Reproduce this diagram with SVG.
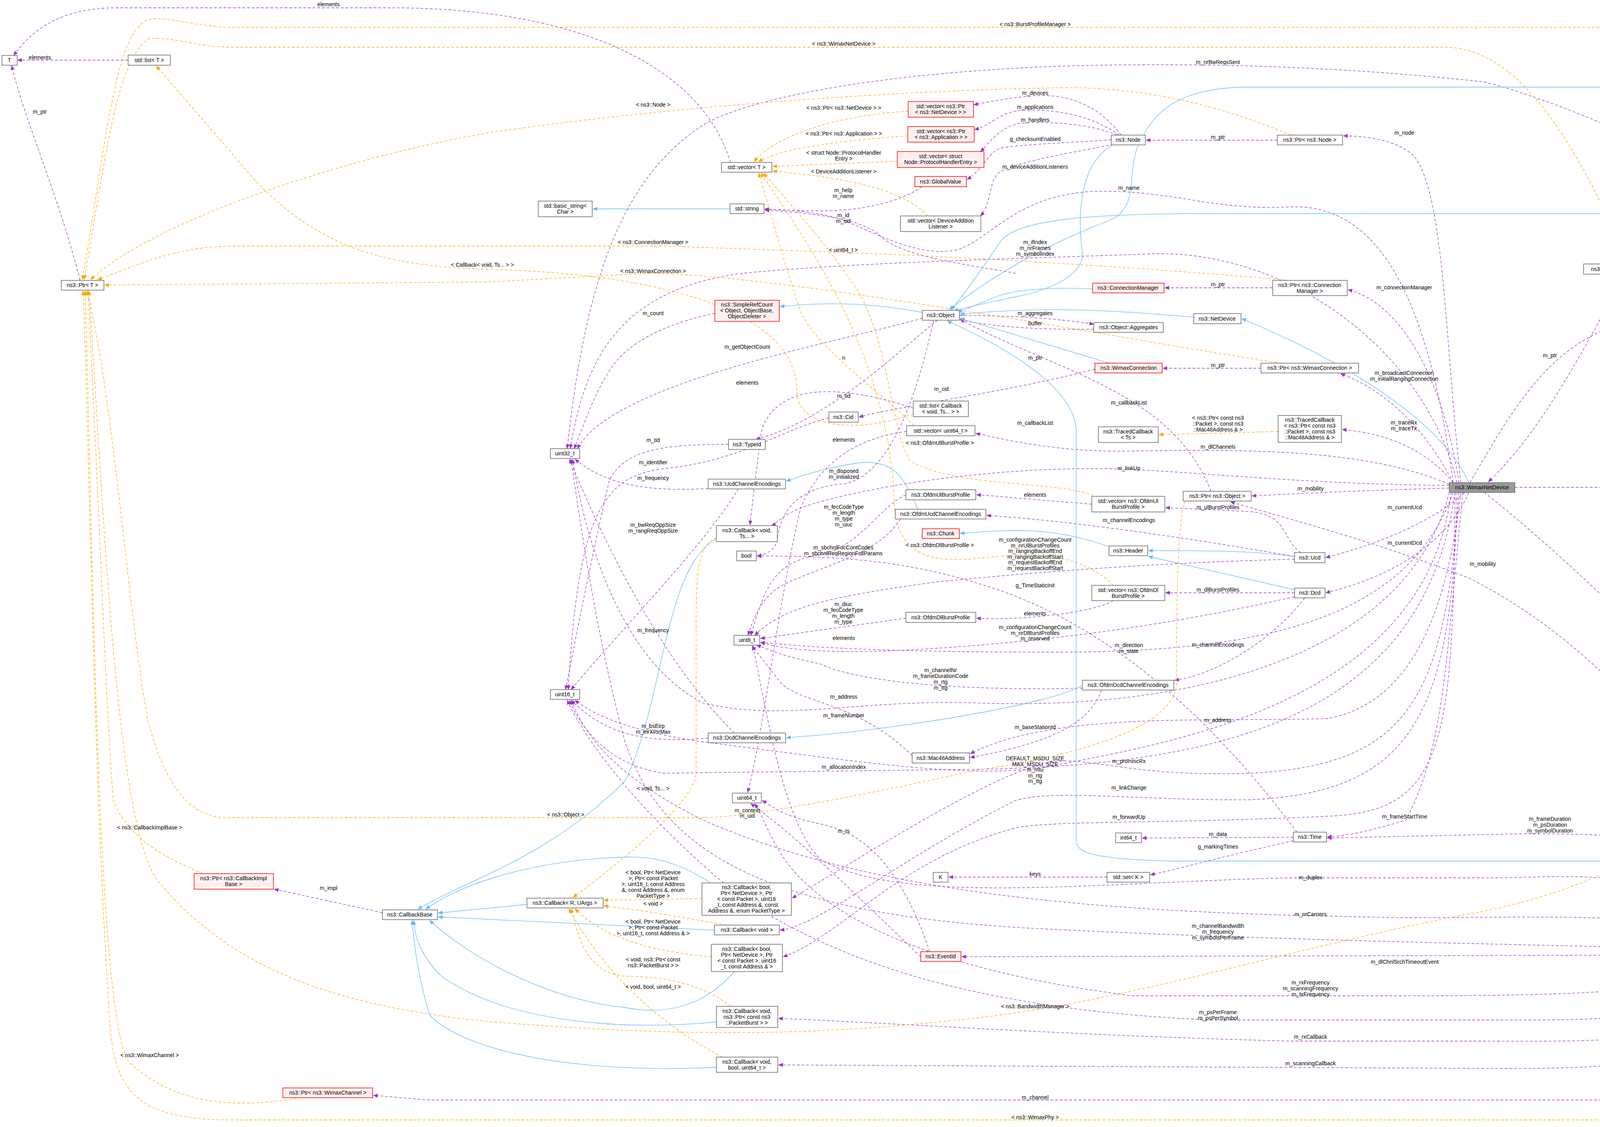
<svg xmlns="http://www.w3.org/2000/svg" width="4988" height="2886" viewBox="0 0 4988 2886">
<style>
text{font-family:"Liberation Sans",Arial,sans-serif;font-size:14px;text-anchor:middle;fill:#000}
.n{fill:#fff;stroke:#666;stroke-width:1.5}
.r{fill:#fff0f0;stroke:#f00;stroke-width:1.5}
.g{fill:#999;stroke:#666;stroke-width:1.5}
.p{fill:none;stroke:#9a32cd;stroke-width:1.3;stroke-dasharray:7,5;marker-end:url(#mp)}
.o{fill:none;stroke:#ffa500;stroke-width:1.3;stroke-dasharray:7,5;marker-end:url(#mo)}
.b{fill:none;stroke:#63b8ff;stroke-width:1.3;marker-end:url(#mb)}
</style>
<defs>
<marker id="mp" markerWidth="12" markerHeight="10" refX="11" refY="5" orient="auto" markerUnits="userSpaceOnUse"><path d="M0,0L12,5L0,10z" fill="#9a32cd"/></marker>
<marker id="mo" markerWidth="12" markerHeight="10" refX="11" refY="5" orient="auto" markerUnits="userSpaceOnUse"><path d="M0,0L12,5L0,10z" fill="#ffa500"/></marker>
<marker id="mb" markerWidth="12" markerHeight="10" refX="11" refY="5" orient="auto" markerUnits="userSpaceOnUse"><path d="M0,0L12,5L0,10z" fill="#63b8ff"/></marker>
</defs>
<rect width="4988" height="2886" fill="#fff"/>
<g id="connectors">
<path class="p" d="M1870,416 C1800,180 1500,20 1000,20 L300,20 C150,20 80,80 35,142"/>
<path class="p" d="M328,154 L45,154"/>
<path class="p" d="M205,718 C150,500 60,300 30,168"/>
<path class="p" d="M2870,346 C2820,280 2750,240 2650,245 C2580,250 2530,262 2493,268"/>
<path class="p" d="M2865,346 C2800,300 2720,280 2620,282 C2560,285 2540,320 2495,332"/>
<path class="p" d="M2860,346 C2800,320 2700,310 2620,315 C2560,320 2530,370 2510,388"/>
<path class="p" d="M2845,358 C2750,365 2600,370 2560,380 C2530,390 2520,430 2476,460"/>
<path class="p" d="M2850,370 C2750,390 2620,410 2560,440 C2530,460 2540,520 2510,553"/>
<path class="p" d="M3270,359 L2934,359"/>
<path class="p" d="M3740,1236 C3700,900 3700,500 3620,400 C3580,360 3500,348 3439,348"/>
<path class="p" d="M2360,478 C2300,520 2200,540 2100,540 C2030,540 1990,537 1958,535"/>
<path class="p" d="M3720,1236 C3650,700 3500,520 3300,530 C3100,540 3000,485 2800,490 C2600,500 2540,610 2450,640 C2350,660 2250,600 2150,560 C2080,540 2000,536 1958,536"/>
<path class="p" d="M2600,700 C2500,680 2300,660 2250,600 C2200,560 2080,545 1958,538"/>
<path class="p" d="M3730,1236 C3650,900 3300,640 2950,650 C2700,660 2200,670 1900,700 C1600,740 1500,900 1460,1149"/>
<path class="p" d="M4580,534 C4300,400 4000,260 3800,210 C3400,165 3000,160 2700,170 C2200,190 1900,260 1800,320 C1600,450 1500,700 1452,1149"/>
<path class="p" d="M1830,802 C1700,830 1600,880 1560,950 C1520,1010 1490,1100 1470,1149"/>
<path class="p" d="M2361,815 C2200,860 1900,920 1700,1000 C1550,1060 1500,1110 1478,1149"/>
<path class="p" d="M2400,820 C2300,900 2200,1000 2050,1080 C1990,1110 1960,1118 1935,1125"/>
<path class="p" d="M2456,808 C2600,808 2700,815 2800,830"/>
<path class="p" d="M2800,843 C2650,845 2520,835 2458,818"/>
<path class="p" d="M2390,820 C2350,1000 2280,1230 2150,1240 C2050,1250 2000,1300 1990,1380 C1985,1410 1960,1420 1938,1424"/>
<path class="p" d="M3100,1258 C3000,1000 2700,950 2458,818"/>
<path class="p" d="M3449,737 L2982,737"/>
<path class="p" d="M3228,943 L2977,943"/>
<path class="p" d="M2803,945 C2600,1000 2300,1040 2199,1068"/>
<path class="p" d="M2122,1070 C2000,1100 1900,1180 1700,1200 C1550,1220 1480,1300 1455,1766"/>
<path class="p" d="M1865,1138 C1700,1138 1600,1150 1560,1230 C1520,1400 1470,1650 1448,1766"/>
<path class="p" d="M1813,1251 C1650,1260 1550,1240 1472,1176"/>
<path class="p" d="M1890,1252 C1800,1400 1600,1600 1462,1766"/>
<path class="p" d="M1813,1890 C1650,1905 1550,1880 1462,1793"/>
<path class="p" d="M1880,1877 C1700,1700 1550,1400 1458,1176"/>
<path class="p" d="M2319,1267 C2250,1300 2200,1400 2100,1420 C1980,1440 1960,1500 1922,1627"/>
<path class="p" d="M2319,1583 C2200,1600 2050,1620 1947,1635"/>
<path class="p" d="M2305,1329 C2250,1420 2100,1450 2000,1500 C1950,1530 1930,1580 1915,1627"/>
<path class="p" d="M3320,2131 C3000,1700 2700,1550 2500,1493 C2300,1430 2100,1423 1938,1424"/>
<path class="p" d="M2795,1291 C2650,1280 2550,1270 2500,1267"/>
<path class="p" d="M2850,1538 C2800,1570 2600,1590 2500,1583"/>
<path class="p" d="M3330,1415 C3280,1380 3300,1320 3200,1310 L2984,1300"/>
<path class="p" d="M3314,1425 C3000,1370 2700,1330 2526,1320"/>
<path class="p" d="M3314,1432 C3000,1440 2700,1460 2400,1490 C2100,1530 2000,1560 1932,1627"/>
<path class="p" d="M3314,1518 L2984,1518"/>
<path class="p" d="M3340,1531 C3250,1650 3100,1730 3007,1742"/>
<path class="p" d="M3314,1528 C3000,1600 2700,1640 2400,1660 C2100,1680 2000,1660 1947,1645"/>
<path class="p" d="M2771,1762 C2500,1770 2200,1750 2100,1700 C2000,1680 1960,1660 1937,1652"/>
<path class="p" d="M2820,1767 C2790,1850 2700,1900 2484,1940"/>
<path class="p" d="M2335,1935 C2200,1800 2050,1800 2000,1750 L1925,1654"/>
<path class="p" d="M3740,1261 C3700,1600 3600,1800 3400,1840 C3100,1850 2700,1820 2484,1930"/>
<path class="p" d="M3720,1261 C3600,1600 3200,1670 2700,1670 C2300,1670 2100,1660 1947,1645"/>
<path class="p" d="M3710,1261 C3600,1700 3000,1820 2500,1800 C2200,1790 2000,1850 1800,1800 C1600,1700 1500,1400 1466,1176"/>
<path class="p" d="M3725,1261 C3650,1800 3200,1960 2500,1970 L1700,1980 C1550,1960 1480,1850 1458,1793"/>
<path class="p" d="M3715,1261 C3650,1800 3000,1900 2700,1960 C2500,2000 2200,1950 1800,1900 C1600,1870 1520,1830 1472,1793"/>
<path class="p" d="M3735,1236 C3700,1000 3600,780 3451,742"/>
<path class="p" d="M3720,1236 C3650,1100 3550,1000 3432,957"/>
<path class="p" d="M3720,1236 C3650,1150 3550,1110 3436,1100"/>
<path class="p" d="M3710,1240 C3500,1150 3200,1150 2900,1155 C2700,1160 2550,1120 2498,1110"/>
<path class="p" d="M3710,1243 C3300,1240 3000,1200 2800,1200 C2500,1200 2200,1250 2050,1300 C1995,1325 1990,1340 1975,1346"/>
<path class="p" d="M3710,1250 C3500,1255 3300,1265 3205,1270"/>
<path class="p" d="M3750,1261 C3650,1350 3500,1400 3394,1428"/>
<path class="p" d="M3760,1261 C3700,1400 3550,1480 3394,1518"/>
<path class="p" d="M3878,1248 L4796,1248"/>
<path class="p" d="M3763,1236 C3900,1000 4000,820 4300,800 C4500,830 4650,700 4880,383"/>
<path class="p" d="M4160,702 C4050,900 3950,1100 3810,1234"/>
<path class="p" d="M4595,373 C4530,500 4500,600 4480,650 C4400,675 4320,672 4280,676"/>
<path class="p" d="M4595,560 C4550,650 4450,720 4242,702"/>
<path class="p" d="M4885,1228 C4800,950 4750,750 4612,562"/>
<path class="p" d="M4795,361 L4701,361"/>
<path class="p" d="M3800,1261 C4100,1500 4500,1900 4890,2426"/>
<path class="p" d="M4790,2441 L4668,2441"/>
<path class="p" d="M3745,1261 C3700,1700 3700,1900 3600,2100 C3500,2130 3450,2140 3398,2143"/>
<path class="p" d="M3735,1261 C3700,1800 3600,1960 3200,1980 C2900,1990 2800,1940 2700,1950 C2550,1970 2200,2200 2028,2300"/>
<path class="p" d="M3730,1261 C3720,1850 3600,2030 3200,2048 C2900,2050 2700,2020 2600,2050 C2300,2200 2100,2370 1997,2382"/>
<path class="p" d="M3725,1261 C3720,1900 3700,2080 3400,2090 C3000,2110 2700,2100 2600,2120 C2300,2200 2150,2400 2005,2450"/>
<path class="p" d="M3311,2144 L2924,2146"/>
<path class="p" d="M3311,2153 C3100,2200 3000,2230 2945,2240"/>
<path class="p" d="M2834,2246 L2429,2246"/>
<path class="p" d="M2321,1105 C2200,1120 2100,1180 2050,1300 C2000,1500 1950,1900 1914,2029"/>
<path class="p" d="M2338,1045 C2200,1000 2000,960 1950,1100 C1930,1250 1925,1300 1920,1344"/>
<path class="p" d="M2357,2450 C2200,2300 2050,2150 1922,2058"/>
<path class="p" d="M2380,2437 C2300,2200 2200,2130 2100,2110 C2000,2090 1980,2065 1951,2050"/>
<path class="p" d="M4560,2428 C4300,2200 4000,2250 3800,2248 L3300,2248 C2800,2260 2300,2320 2100,2200 C2000,2100 1960,1800 1927,1654"/>
<path class="p" d="M4555,2428 C4300,2330 4000,2350 3600,2350 C3000,2340 2300,2320 1800,2100 C1600,2000 1500,1900 1464,1793"/>
<path class="p" d="M4542,2435 C4000,2420 3300,2410 2700,2380 C2000,2350 1700,2200 1600,1900 C1520,1600 1480,1300 1462,1176"/>
<path class="p" d="M4542,2445 L2462,2450"/>
<path class="p" d="M4550,2454 C4300,2550 4000,2550 3500,2550 L2900,2550 C2500,2500 2200,2400 2050,2250 C1980,2180 1960,2100 1932,2058"/>
<path class="p" d="M4555,2454 C4400,2620 4100,2612 3800,2612 L3100,2612 C2600,2590 2200,2500 1900,2300 C1650,2100 1500,1900 1452,1793"/>
<path class="p" d="M4560,2454 C4500,2650 4300,2670 3800,2666 L3300,2666 C2700,2650 2300,2620 1993,2608"/>
<path class="p" d="M4565,2454 C4500,2700 4300,2740 3800,2736 L1993,2727"/>
<path class="p" d="M4600,2454 C4560,2700 4450,2800 4221,2775"/>
<path class="p" d="M4605,2454 C4560,2750 4450,2820 4200,2817 L1100,2817 L956,2805"/>
<path class="p" d="M4595,2428 C4550,2200 4450,2050 4400,1800 C4300,1600 4250,1100 4180,704"/>
<path class="p" d="M4580,2428 C4400,2000 4100,1650 3760,1480 C3500,1380 3300,1330 3150,1285"/>
<path class="p" d="M4565,2428 C4500,2160 4300,2135 3900,2135 L3398,2146"/>
<path class="p" d="M979,2337 L702,2277"/>
<path class="o" d="M4900,341 C4850,150 4750,70 4600,70 L600,70 C500,70 430,40 380,50 C300,80 280,300 211,716"/>
<path class="o" d="M4170,676 C4050,400 3900,121 3700,121 L600,121 C500,121 430,90 380,100 C300,150 270,400 216,716"/>
<path class="o" d="M3305,346 C3100,260 2900,220 2700,225 C2400,230 1800,260 1250,340 C900,400 400,560 232,716"/>
<path class="o" d="M3300,718 C3000,690 2500,660 2250,650 L1700,630 L600,630 C450,630 350,680 250,716"/>
<path class="o" d="M3280,930 C3000,890 2000,700 1660,700 L1250,722 L268,730"/>
<path class="o" d="M3035,1283 C3015,1320 3012,1500 3012,1750 C3010,1850 2800,1930 2500,1972 C2200,2040 1900,2094 1800,2094 L580,2094 C480,2094 420,2000 380,1850 C330,1600 290,1000 222,745"/>
<path class="o" d="M520,2237 C430,2200 330,2150 290,2050 C270,1800 250,1200 225,745"/>
<path class="o" d="M770,2811 C600,2840 450,2830 330,2720 C250,2600 240,1500 218,745"/>
<path class="o" d="M4870,2454 C4850,2650 4700,2868 4600,2868 L600,2868 C350,2868 290,2800 280,2600 C240,2000 230,1200 213,745"/>
<path class="o" d="M4882,1268 C4700,1900 4300,2250 3750,2342 C3300,2430 2900,2560 2500,2607 C2100,2650 1800,2660 1250,2616 C900,2580 600,2500 400,2250 C300,2100 270,1400 228,745"/>
<path class="o" d="M2338,1060 C2200,1110 2040,1100 2040,1000 C2040,800 1700,700 1250,690 C1000,680 800,650 600,400 L400,169"/>
<path class="o" d="M2325,285 C2200,290 2000,330 1930,414"/>
<path class="o" d="M2324,348 C2150,360 2000,380 1942,414"/>
<path class="o" d="M2297,413 L1978,426"/>
<path class="o" d="M2375,553 C2300,470 2100,450 1978,438"/>
<path class="o" d="M2340,1090 C2250,1000 2100,900 2050,800 C2000,650 1960,500 1942,443"/>
<path class="o" d="M2799,1269 C2700,1230 2450,1250 2330,1180 C2280,1100 2280,900 2200,750 C2100,600 2000,500 1955,443"/>
<path class="o" d="M2850,1499 C2750,1400 2600,1420 2500,1430 C2400,1440 2300,1430 2290,1300 C2280,900 2050,600 1948,443"/>
<path class="o" d="M3272,1105 L2967,1113"/>
<path class="o" d="M1834,1377 C1790,1395 1782,1450 1782,1600 L1782,1980 C1780,2050 1600,2200 1467,2298"/>
<path class="o" d="M1797,2301 L1546,2305"/>
<path class="o" d="M1860,2369 C1700,2340 1600,2325 1546,2320"/>
<path class="o" d="M1821,2450 C1700,2440 1550,2410 1472,2327"/>
<path class="o" d="M1870,2577 C1800,2520 1700,2500 1600,2500 C1500,2490 1480,2400 1462,2327"/>
<path class="o" d="M1850,2707 C1700,2630 1550,2500 1456,2327"/>
<path class="b" d="M1869,535 L1518,535"/>
<path class="b" d="M2361,800 C2250,780 2150,770 1997,785"/>
<path class="b" d="M2848,372 C2760,420 2760,560 2770,640 C2780,700 2700,740 2600,760 C2500,780 2470,790 2442,795"/>
<path class="b" d="M4580,348 C4500,280 4350,223 4200,223 L3200,223 C3000,223 2950,300 2920,360 C2880,430 2920,520 2850,560 C2750,600 2600,660 2430,793"/>
<path class="b" d="M4514,547 L3100,547 C2800,547 2600,560 2560,620 C2520,680 2470,750 2436,793"/>
<path class="b" d="M2797,740 C2700,735 2600,740 2550,760 L2452,800"/>
<path class="b" d="M3056,812 C2900,800 2700,780 2458,805"/>
<path class="b" d="M2840,930 L2458,815"/>
<path class="b" d="M3760,1236 C3700,1100 3500,950 3179,816"/>
<path class="b" d="M4600,2428 C4570,2300 4500,2205 4430,2205 L3000,2205 C2780,2200 2755,2180 2755,2150 L2755,1100 C2750,1000 2600,900 2425,822"/>
<path class="b" d="M2350,1304 C2320,1240 2300,1175 2200,1185 C2100,1200 2050,1220 2013,1232"/>
<path class="b" d="M2771,1755 C2700,1800 2300,1870 2013,1889"/>
<path class="b" d="M3314,1425 C3200,1410 3100,1410 2940,1410"/>
<path class="b" d="M3314,1510 L2940,1425"/>
<path class="b" d="M2839,1400 C2700,1350 2600,1355 2458,1366"/>
<path class="b" d="M1834,1380 C1700,1450 1700,1800 1600,2000 C1400,2200 1200,2250 1070,2328"/>
<path class="b" d="M1349,2316 L1122,2338"/>
<path class="b" d="M1820,2261 C1770,2230 1700,2190 1600,2195 C1400,2200 1200,2250 1090,2328"/>
<path class="b" d="M1829,2382 L1122,2348"/>
<path class="b" d="M1880,2488 C1800,2580 1700,2600 1600,2580 C1400,2560 1200,2450 1100,2357"/>
<path class="b" d="M1834,2617 C1600,2640 1300,2620 1130,2500 C1080,2450 1060,2400 1060,2357"/>
<path class="b" d="M1834,2733 C1500,2750 1200,2700 1100,2600 C1070,2500 1060,2420 1055,2357"/>
</g>
<g id="labels">
<text x="841" y="16">elements</text>
<text x="102" y="152">elements</text>
<text x="102" y="291">m_ptr</text>
<text x="1235" y="683">&lt; Callback&lt; void, Ts... &gt; &gt;</text>
<text x="2160" y="117">&lt; ns3::WimaxNetDevice &gt;</text>
<text x="1672" y="273">&lt; ns3::Node &gt;</text>
<text x="2160" y="281">&lt; ns3::Ptr&lt; ns3::NetDevice &gt; &gt;</text>
<text x="2160" y="347">&lt; ns3::Ptr&lt; ns3::Application &gt; &gt;</text>
<text x="2160" y="396">&lt; struct Node::ProtocolHandler<tspan x="2160" dy="15">Entry &gt;</tspan></text>
<text x="2160" y="444">&lt; DeviceAdditionListener &gt;</text>
<text x="2159" y="492">m_help<tspan x="2159" dy="15">m_name</tspan></text>
<text x="2159" y="556">m_id<tspan x="2159" dy="15">m_sid</tspan></text>
<text x="1672" y="625">&lt; ns3::ConnectionManager &gt;</text>
<text x="2159" y="645">&lt; uint64_t &gt;</text>
<text x="1672" y="699">&lt; ns3::WimaxConnection &gt;</text>
<text x="1672" y="807">m_count</text>
<text x="1913" y="893">m_getObjectCount</text>
<text x="2160" y="921">n</text>
<text x="2650" y="67">&lt; ns3::BurstProfileManager &gt;</text>
<text x="3118" y="164">m_nrBwReqsSent</text>
<text x="2650" y="243">m_devices</text>
<text x="2650" y="279">m_applications</text>
<text x="2650" y="312">m_handlers</text>
<text x="2650" y="361">g_checksumEnabled</text>
<text x="2650" y="432">m_deviceAdditionListeners</text>
<text x="3118" y="356">m_ptr</text>
<text x="3595" y="345">m_node</text>
<text x="2890" y="486">m_name</text>
<text x="2650" y="625">m_ifIndex<tspan x="2650" dy="15">m_nrFrames</tspan><tspan x="2650" dy="15">m_symbolIndex</tspan></text>
<text x="3118" y="733">m_ptr</text>
<text x="3595" y="741">m_connectionManager</text>
<text x="2650" y="807">m_aggregates</text>
<text x="2650" y="833">buffer</text>
<text x="2650" y="921">m_ptr</text>
<text x="3118" y="940">m_ptr</text>
<text x="3595" y="960">m_broadcastConnection<tspan x="3595" dy="15">m_initialRangingConnection</tspan></text>
<text x="4745" y="358">m_ptr</text>
<text x="4408" y="601">m_burstProfileManager</text>
<text x="4408" y="639">m_device</text>
<text x="4408" y="684">m_device</text>
<text x="4745" y="833">m_ptr</text>
<text x="3968" y="915">m_ptr</text>
<text x="1913" y="985">elements</text>
<text x="2160" y="1019">m_tid</text>
<text x="2410" y="1001">m_cid</text>
<text x="1672" y="1132">m_tid</text>
<text x="2160" y="1131">elements</text>
<text x="2406" y="1139">&lt; ns3::OfdmUlBurstProfile &gt;</text>
<text x="1672" y="1189">m_identifier</text>
<text x="1672" y="1229">m_frequency</text>
<text x="2160" y="1211">m_disposed<tspan x="2160" dy="15">m_initialized</tspan></text>
<text x="2160" y="1303">m_fecCodeType<tspan x="2160" dy="15">m_length</tspan><tspan x="2160" dy="15">m_type</tspan><tspan x="2160" dy="15">m_uiuc</tspan></text>
<text x="1672" y="1349">m_bwReqOppSize<tspan x="1672" dy="15">m_rangReqOppSize</tspan></text>
<text x="2406" y="1401">&lt; ns3::OfdmDlBurstProfile &gt;</text>
<text x="2159" y="1407">m_sbchnlFocContCodes<tspan x="2159" dy="15">m_sbchnlReqRegionFullParams</tspan></text>
<text x="2159" y="1552">m_diuc<tspan x="2159" dy="15">m_fecCodeType</tspan><tspan x="2159" dy="15">m_length</tspan><tspan x="2159" dy="15">m_type</tspan></text>
<text x="2160" y="1639">elements</text>
<text x="1672" y="1619">m_frequency</text>
<text x="2408" y="1721">m_channelNr<tspan x="2408" dy="15">m_frameDurationCode</tspan><tspan x="2408" dy="15">m_rtg</tspan><tspan x="2408" dy="15">m_ttg</tspan></text>
<text x="2160" y="1789">m_address</text>
<text x="2160" y="1837">m_frameNumber</text>
<text x="1672" y="1864">m_bsEirp<tspan x="1672" dy="15">m_eirXPIrMax</tspan></text>
<text x="2890" y="1036">m_callbackList</text>
<text x="3118" y="1075">&lt; ns3::Ptr&lt; const ns3<tspan x="3118" dy="15">::Packet &gt;, const ns3</tspan><tspan x="3118" dy="15">::Mac48Address &amp; &gt;</tspan></text>
<text x="2650" y="1088">m_callbackList</text>
<text x="3594" y="1087">m_traceRx<tspan x="3594" dy="15">m_traceTx</tspan></text>
<text x="3118" y="1149">m_dlChannels</text>
<text x="2890" y="1204">m_linkUp</text>
<text x="2650" y="1272">elements</text>
<text x="3355" y="1256">m_mobility</text>
<text x="3118" y="1304">m_ulBurstProfiles</text>
<text x="3596" y="1304">m_currentUcd</text>
<text x="2890" y="1337">m_channelEncodings</text>
<text x="2650" y="1387">m_configurationChangeCount<tspan x="2650" dy="14.5">m_nrUlBurstProfiles</tspan><tspan x="2650" dy="14.5">m_rangingBackoffEnd</tspan><tspan x="2650" dy="14.5">m_rangingBackoffStart</tspan><tspan x="2650" dy="14.5">m_requestBackoffEnd</tspan><tspan x="2650" dy="14.5">m_requestBackoffStart</tspan></text>
<text x="3596" y="1395">m_currentDcd</text>
<text x="2650" y="1504">g_TimeStaticInit</text>
<text x="3118" y="1515">m_dlBurstProfiles</text>
<text x="2650" y="1576">elements</text>
<text x="2650" y="1611">m_configurationChangeCount<tspan x="2650" dy="14.5">m_nrDlBurstProfiles</tspan><tspan x="2650" dy="14.5">m_reserved</tspan></text>
<text x="2890" y="1657">m_direction<tspan x="2890" dy="15">m_state</tspan></text>
<text x="3118" y="1656">m_channelEncodings</text>
<text x="3118" y="1849">m_address</text>
<text x="2650" y="1867">m_baseStationId</text>
<text x="2160" y="1969">m_allocationIndex</text>
<text x="1672" y="2024">&lt; void, Ts... &gt;</text>
<text x="1913" y="2080">m_context<tspan x="1913" dy="14">m_uid</tspan></text>
<text x="1448" y="2091">&lt; ns3::Object &gt;</text>
<text x="2160" y="2133">m_ts</text>
<text x="1672" y="2239">&lt; bool, Ptr&lt; NetDevice<tspan x="1672" dy="15">&gt;, Ptr&lt; const Packet</tspan><tspan x="1672" dy="15">&gt;, uint16_t, const Address</tspan><tspan x="1672" dy="15">&amp;, const Address &amp;, enum</tspan><tspan x="1672" dy="15">PacketType &gt;</tspan></text>
<text x="1672" y="2319">&lt; void &gt;</text>
<text x="1672" y="2365">&lt; bool, Ptr&lt; NetDevice<tspan x="1672" dy="15">&gt;, Ptr&lt; const Packet</tspan><tspan x="1672" dy="15">&gt;, uint16_t, const Address &amp; &gt;</tspan></text>
<text x="1672" y="2462">&lt; void, ns3::Ptr&lt; const<tspan x="1672" dy="15">ns3::PacketBurst &gt; &gt;</tspan></text>
<text x="1672" y="2532">&lt; void, bool, uint64_t &gt;</text>
<text x="2650" y="1947">DEFAULT_MSDU_SIZE<tspan x="2650" dy="14.5">MAX_MSDU_SIZE</tspan><tspan x="2650" dy="14.5">m_mtu</tspan><tspan x="2650" dy="14.5">m_rtg</tspan><tspan x="2650" dy="14.5">m_ttg</tspan></text>
<text x="2890" y="1954">m_promiscRx</text>
<text x="2890" y="2022">m_linkChange</text>
<text x="2890" y="2097">m_forwardUp</text>
<text x="3596" y="2096">m_frameStartTime</text>
<text x="3118" y="2141">m_data</text>
<text x="3118" y="2173">g_markingTimes</text>
<text x="2650" y="2243">keys</text>
<text x="3355" y="2252">m_duplex</text>
<text x="3355" y="2346">m_nrCarriers</text>
<text x="3118" y="2376">m_channelBandwidth<tspan x="3118" dy="15">m_frequency</tspan><tspan x="3118" dy="15">m_symbolsPerFrame</tspan></text>
<text x="3596" y="2468">m_dlChnlSrchTimeoutEvent</text>
<text x="3355" y="2521">m_rxFrequency<tspan x="3355" dy="15">m_scanningFrequency</tspan><tspan x="3355" dy="15">m_txFrequency</tspan></text>
<text x="2650" y="2582">&lt; ns3::BandwidthManager &gt;</text>
<text x="3118" y="2597">m_psPerFrame<tspan x="3118" dy="15">m_psPerSymbol</tspan></text>
<text x="3355" y="2660">m_rxCallback</text>
<text x="3355" y="2728">m_scanningCallback</text>
<text x="2650" y="2815">m_channel</text>
<text x="2650" y="2866">&lt; ns3::WimaxPhy &gt;</text>
<text x="4408" y="1244">m_bandwidthManager</text>
<text x="3796" y="1449">m_mobility</text>
<text x="4408" y="1649">m_phy</text>
<text x="4408" y="1821">m_device</text>
<text x="3968" y="2102">m_frameDuration<tspan x="3968" dy="15">m_psDuration</tspan><tspan x="3968" dy="15">m_symbolDuration</tspan></text>
<text x="4745" y="2438">m_ptr</text>
<text x="4408" y="2747">m_state</text>
<text x="383" y="2124">&lt; ns3::CallbackImplBase &gt;</text>
<text x="841" y="2279">m_impl</text>
<text x="383" y="2707">&lt; ns3::WimaxChannel &gt;</text>
</g>
<g id="nodes">
<g id="T"><rect class="n" x="5" y="142" width="39" height="25"/><text x="24" y="159">T</text></g>
<g id="list_T"><rect class="n" x="328" y="141" width="108" height="26"/><text x="382" y="159">std::list&lt; T &gt;</text></g>
<g id="Ptr_T"><rect class="n" x="157" y="718" width="109" height="25"/><text x="211" y="735">ns3::Ptr&lt; T &gt;</text></g>
<g id="vector_T"><rect class="n" x="1847" y="416" width="129" height="25"/><text x="1911" y="433">std::vector&lt; T &gt;</text></g>
<g id="basic_string"><rect class="n" x="1378" y="515" width="138" height="40"/><text x="1447" y="532">std::basic_string&lt;<tspan x="1447" dy="15">Char &gt;</tspan></text></g>
<g id="string"><rect class="n" x="1869" y="522" width="87" height="25"/><text x="1912" y="539">std::string</text></g>
<g id="vec_netdevice"><rect class="r" x="2325" y="260" width="167" height="40"/><text x="2408" y="277">std::vector&lt; ns3::Ptr<tspan x="2408" dy="15">&lt; ns3::NetDevice &gt; &gt;</tspan></text></g>
<g id="vec_app"><rect class="r" x="2324" y="324" width="170" height="40"/><text x="2409" y="341">std::vector&lt; ns3::Ptr<tspan x="2409" dy="15">&lt; ns3::Application &gt; &gt;</tspan></text></g>
<g id="vec_handler"><rect class="r" x="2297" y="388" width="222" height="41"/><text x="2408" y="405">std::vector&lt; struct<tspan x="2408" dy="15">Node::ProtocolHandlerEntry &gt;</tspan></text></g>
<g id="globalvalue"><rect class="r" x="2342" y="452" width="132" height="26"/><text x="2408" y="470">ns3::GlobalValue</text></g>
<g id="vec_listener"><rect class="n" x="2305" y="553" width="206" height="40"/><text x="2408" y="570">std::vector&lt; DeviceAddition<tspan x="2408" dy="15">Listener &gt;</tspan></text></g>
<g id="simplerefcount"><rect class="r" x="1830" y="769" width="165" height="54"/><text x="1912" y="785">ns3::SimpleRefCount<tspan x="1912" dy="15">&lt; Object, ObjectBase,</tspan><tspan x="1912" dy="15">ObjectDeleter &gt;</tspan></text></g>
<g id="object"><rect class="n" x="2361" y="795" width="95" height="25"/><text x="2408" y="812">ns3::Object</text></g>
<g id="node"><rect class="n" x="2845" y="346" width="87" height="25"/><text x="2888" y="363">ns3::Node</text></g>
<g id="ptr_node"><rect class="n" x="3270" y="346" width="167" height="25"/><text x="3353" y="363">ns3::Ptr&lt; ns3::Node &gt;</text></g>
<g id="connectionmanager"><rect class="r" x="2797" y="725" width="183" height="25"/><text x="2888" y="742">ns3::ConnectionManager</text></g>
<g id="ptr_connectionmanager"><rect class="n" x="3258" y="718" width="191" height="39"/><text x="3353" y="735">ns3::Ptr&lt; ns3::Connection<tspan x="3353" dy="15">Manager &gt;</tspan></text></g>
<g id="netdevice"><rect class="n" x="3056" y="803" width="121" height="26"/><text x="3116" y="821">ns3::NetDevice</text></g>
<g id="aggregates"><rect class="n" x="2800" y="826" width="178" height="25"/><text x="2889" y="843">ns3::Object::Aggregates</text></g>
<g id="wimaxconnection"><rect class="r" x="2803" y="930" width="172" height="25"/><text x="2889" y="947">ns3::WimaxConnection</text></g>
<g id="ptr_wimaxconnection"><rect class="n" x="3228" y="930" width="250" height="25"/><text x="3353" y="947">ns3::Ptr&lt; ns3::WimaxConnection &gt;</text></g>
<g id="burstprofilemanager"><rect class="n" x="4510" y="348" width="189" height="25"/><text x="4604" y="365">ns3::BurstProfileManager</text></g>
<g id="ptr_burstprofilemanager"><rect class="n" x="4795" y="341" width="190" height="40"/><text x="4890" y="358">ns3::Ptr&lt; ns3::BurstProfile<tspan x="4890" dy="15">Manager &gt;</tspan></text></g>
<g id="bandwidthmanager"><rect class="n" x="4514" y="534" width="180" height="26"/><text x="4604" y="552">ns3::BandwidthManager</text></g>
<g id="ptr_wimaxnetdevice"><rect class="n" x="4054" y="676" width="248" height="26"/><text x="4178" y="694">ns3::Ptr&lt; ns3::WimaxNetDevice &gt;</text></g>
<g id="uint32"><rect class="n" x="1409" y="1149" width="75" height="25"/><text x="1446" y="1166">uint32_t</text></g>
<g id="uint16"><rect class="n" x="1409" y="1766" width="75" height="25"/><text x="1446" y="1783">uint16_t</text></g>
<g id="cid"><rect class="n" x="2122" y="1055" width="75" height="26"/><text x="2159" y="1073">ns3::Cid</text></g>
<g id="typeid"><rect class="n" x="1865" y="1125" width="94" height="26"/><text x="1912" y="1143">ns3::TypeId</text></g>
<g id="ucdchannelencodings"><rect class="n" x="1813" y="1227" width="198" height="25"/><text x="1912" y="1244">ns3::UcdChannelEncodings</text></g>
<g id="callback_void_ts"><rect class="n" x="1834" y="1346" width="156" height="41"/><text x="1912" y="1363">ns3::Callback&lt; void,<tspan x="1912" dy="15">Ts... &gt;</tspan></text></g>
<g id="bool"><rect class="n" x="1886" y="1411" width="50" height="25"/><text x="1911" y="1428">bool</text></g>
<g id="uint8"><rect class="n" x="1879" y="1627" width="66" height="25"/><text x="1912" y="1644">uint8_t</text></g>
<g id="dcdchannelencodings"><rect class="n" x="1813" y="1877" width="198" height="25"/><text x="1912" y="1894">ns3::DcdChannelEncodings</text></g>
<g id="list_callback"><rect class="n" x="2338" y="1027" width="141" height="40"/><text x="2408" y="1044">std::list&lt; Callback<tspan x="2408" dy="15">&lt; void, Ts... &gt; &gt;</tspan></text></g>
<g id="vec_uint64"><rect class="n" x="2321" y="1090" width="175" height="26"/><text x="2408" y="1108">std::vector&lt; uint64_t &gt;</text></g>
<g id="ofdmulburstprofile"><rect class="n" x="2319" y="1254" width="179" height="26"/><text x="2408" y="1272">ns3::OfdmUlBurstProfile</text></g>
<g id="ofdmucdchannelencodings"><rect class="n" x="2292" y="1304" width="232" height="25"/><text x="2408" y="1321">ns3::OfdmUcdChannelEncodings</text></g>
<g id="chunk"><rect class="r" x="2361" y="1354" width="95" height="25"/><text x="2408" y="1371">ns3::Chunk</text></g>
<g id="ofdmdlburstprofile"><rect class="n" x="2319" y="1568" width="179" height="26"/><text x="2408" y="1586">ns3::OfdmDlBurstProfile</text></g>
<g id="tracedcallback_ts"><rect class="n" x="2812" y="1093" width="153" height="40"/><text x="2888" y="1110">ns3::TracedCallback<tspan x="2888" dy="15">&lt; Ts &gt;</tspan></text></g>
<g id="tracedcallback_packet"><rect class="n" x="3272" y="1064" width="162" height="69"/><text x="3353" y="1080">ns3::TracedCallback<tspan x="3353" dy="15">&lt; ns3::Ptr&lt; const ns3</tspan><tspan x="3353" dy="15">::Packet &gt;, const ns3</tspan><tspan x="3353" dy="15">::Mac48Address &amp; &gt;</tspan></text></g>
<g id="wimaxnetdevice"><rect class="g" x="3710" y="1236" width="168" height="25"/><text x="3794" y="1253">ns3::WimaxNetDevice</text></g>
<g id="ptr_object"><rect class="n" x="3029" y="1258" width="174" height="25"/><text x="3116" y="1275">ns3::Ptr&lt; ns3::Object &gt;</text></g>
<g id="vec_ofdmul"><rect class="n" x="2795" y="1271" width="187" height="40"/><text x="2888" y="1288">std::vector&lt; ns3::OfdmUl<tspan x="2888" dy="15">BurstProfile &gt;</tspan></text></g>
<g id="header"><rect class="n" x="2839" y="1398" width="99" height="25"/><text x="2888" y="1415">ns3::Header</text></g>
<g id="ucd"><rect class="n" x="3314" y="1415" width="78" height="26"/><text x="3353" y="1433">ns3::Ucd</text></g>
<g id="vec_ofdmdl"><rect class="n" x="2795" y="1499" width="187" height="39"/><text x="2888" y="1516">std::vector&lt; ns3::OfdmDl<tspan x="2888" dy="15">BurstProfile &gt;</tspan></text></g>
<g id="dcd"><rect class="n" x="3314" y="1506" width="78" height="25"/><text x="3353" y="1523">ns3::Dcd</text></g>
<g id="ofdmdcdchannelencodings"><rect class="n" x="2771" y="1742" width="234" height="25"/><text x="2888" y="1759">ns3::OfdmDcdChannelEncodings</text></g>
<g id="mac48address"><rect class="n" x="2335" y="1928" width="147" height="26"/><text x="2408" y="1946">ns3::Mac48Address</text></g>
<g id="uint64"><rect class="n" x="1875" y="2031" width="74" height="25"/><text x="1912" y="2048">uint64_t</text></g>
<g id="callback_r_uargs"><rect class="n" x="1349" y="2300" width="195" height="25"/><text x="1446" y="2317">ns3::Callback&lt; R, UArgs &gt;</text></g>
<g id="callback_packettype"><rect class="n" x="1797" y="2261" width="229" height="83"/><text x="1911" y="2277">ns3::Callback&lt; bool,<tspan x="1911" dy="15">Ptr&lt; NetDevice &gt;, Ptr</tspan><tspan x="1911" dy="15">&lt; const Packet &gt;, uint16</tspan><tspan x="1911" dy="15">_t, const Address &amp;, const</tspan><tspan x="1911" dy="15">Address &amp;, enum PacketType &gt;</tspan></text></g>
<g id="callback_void"><rect class="n" x="1829" y="2369" width="166" height="25"/><text x="1912" y="2386">ns3::Callback&lt; void &gt;</text></g>
<g id="callback_address"><rect class="n" x="1821" y="2418" width="182" height="70"/><text x="1912" y="2435">ns3::Callback&lt; bool,<tspan x="1912" dy="15">Ptr&lt; NetDevice &gt;, Ptr</tspan><tspan x="1912" dy="15">&lt; const Packet &gt;, uint16</tspan><tspan x="1912" dy="15">_t, const Address &amp; &gt;</tspan></text></g>
<g id="callback_packetburst"><rect class="n" x="1834" y="2577" width="157" height="54"/><text x="1912" y="2594">ns3::Callback&lt; void,<tspan x="1912" dy="15">ns3::Ptr&lt; const ns3</tspan><tspan x="1912" dy="15">::PacketBurst &gt; &gt;</tspan></text></g>
<g id="callback_bool_uint64"><rect class="n" x="1834" y="2707" width="157" height="39"/><text x="1912" y="2724">ns3::Callback&lt; void,<tspan x="1912" dy="15">bool, uint64_t &gt;</tspan></text></g>
<g id="K"><rect class="n" x="2389" y="2234" width="38" height="25"/><text x="2408" y="2251">K</text></g>
<g id="eventid"><rect class="r" x="2357" y="2437" width="103" height="25"/><text x="2408" y="2454">ns3::EventId</text></g>
<g id="int64"><rect class="n" x="2856" y="2133" width="66" height="25"/><text x="2889" y="2150">int64_t</text></g>
<g id="time"><rect class="n" x="3311" y="2131" width="85" height="25"/><text x="3353" y="2148">ns3::Time</text></g>
<g id="set_K"><rect class="n" x="2834" y="2234" width="109" height="25"/><text x="2888" y="2251">std::set&lt; K &gt;</text></g>
<g id="wimaxphy"><rect class="n" x="4542" y="2428" width="124" height="26"/><text x="4604" y="2446">ns3::WimaxPhy</text></g>
<g id="ptr_wimaxphy"><rect class="n" x="4790" y="2428" width="195" height="26"/><text x="4887" y="2446">ns3::Ptr&lt; ns3::WimaxPhy &gt;</text></g>
<g id="phystate"><rect class="n" x="4137" y="2755" width="82" height="26"/><text x="4178" y="2773">PhyState</text></g>
<g id="ptr_callbackimplbase"><rect class="r" x="497" y="2237" width="203" height="40"/><text x="598" y="2254">ns3::Ptr&lt; ns3::CallbackImpl<tspan x="598" dy="15">Base &gt;</tspan></text></g>
<g id="callbackbase"><rect class="n" x="979" y="2330" width="141" height="25"/><text x="1049" y="2347">ns3::CallbackBase</text></g>
<g id="ptr_wimaxchannel"><rect class="r" x="724" y="2786" width="230" height="25"/><text x="839" y="2803">ns3::Ptr&lt; ns3::WimaxChannel &gt;</text></g>
<g id="ptr_bandwidthmanager"><rect class="n" x="4798" y="1228" width="188" height="40"/><text x="4892" y="1245">ns3::Ptr&lt; ns3::Bandwidth<tspan x="4892" dy="15">Manager &gt;</tspan></text></g>
</g>
</svg>
